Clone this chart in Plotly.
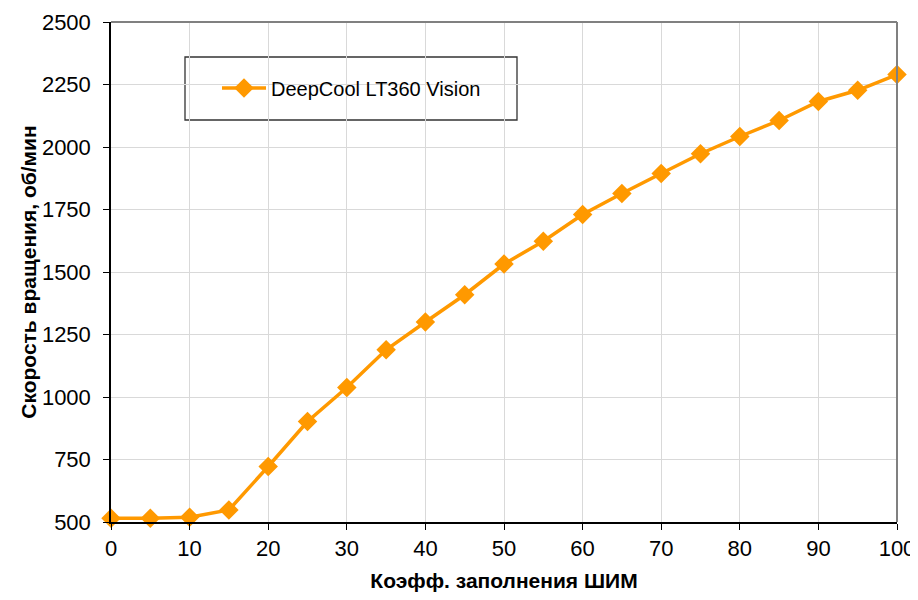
import plotly.graph_objects as go

pwm = [0, 5, 10, 15, 20, 25, 30, 35, 40, 45, 50, 55, 60, 65, 70, 75, 80, 85, 90, 95, 100]
rpm = [515, 515, 519, 548, 722, 902, 1038, 1189, 1300, 1409, 1532, 1623, 1730, 1814,
       1894, 1973, 2042, 2106, 2182, 2227, 2290]

series_name = "DeepCool LT360 Vision"
x_title = "Коэфф. заполнения ШИМ"
y_title = "Скорость вращения, об/мин"

orange = "#FF9900"
font = "Liberation Sans, Arial, sans-serif"

fig = go.Figure()
fig.add_trace(go.Scatter(
    x=pwm, y=rpm, name=series_name, mode="lines+markers",
    line=dict(color=orange, width=3.5),
    marker=dict(symbol="diamond", size=15, color=orange),
    cliponaxis=False,
))

axis_common = dict(
    showgrid=True, gridcolor="#D9D9D9", gridwidth=1.3,
    showline=True, linecolor="black", linewidth=1.5,
    ticks="outside", ticklen=6, tickcolor="black",
    tickfont=dict(family=font, size=22, color="black"),
    zeroline=False, automargin=False,
)

fig.update_xaxes(range=[0, 100], dtick=10, **axis_common,
                 title=dict(text="<b>" + x_title + "</b>",
                            font=dict(family=font, size=21, color="black"), standoff=23))
fig.update_yaxes(range=[500, 2500], dtick=250, ticklabelstandoff=8, **axis_common,
                 title=dict(text="<b>" + y_title + "</b>",
                            font=dict(family=font, size=21, color="black"), standoff=0))

# gray top/right frame and the legend box
fig.add_shape(type="line", xref="paper", yref="paper", x0=0, x1=1, y0=1, y1=1,
              line=dict(color="#808080", width=2))
fig.add_shape(type="line", xref="paper", yref="paper", x0=1, x1=1, y0=0, y1=1,
              line=dict(color="#808080", width=2))
fig.add_shape(type="rect", xref="paper", yref="paper",
              x0=(185 - 111) / 786, x1=(517 - 111) / 786,
              y0=(522 - 120) / 500, y1=(522 - 57) / 500,
              line=dict(color="#333333", width=1.3), fillcolor="white", layer="below")

# page body has an 8px margin, so the figure is sized to fit inside it
fig.update_layout(
    width=910, height=584,
    margin=dict(l=103, r=21, t=14, b=70),
    plot_bgcolor="white", paper_bgcolor="white",
    font=dict(family=font, color="black"),
    showlegend=True,
    legend=dict(x=(217 - 111) / 786, y=(522 - 88) / 500, xanchor="left", yanchor="middle",
                itemwidth=44,
                bgcolor="rgba(0,0,0,0)", font=dict(family=font, size=20, color="black")),
)

fig.write_html("out.html")
